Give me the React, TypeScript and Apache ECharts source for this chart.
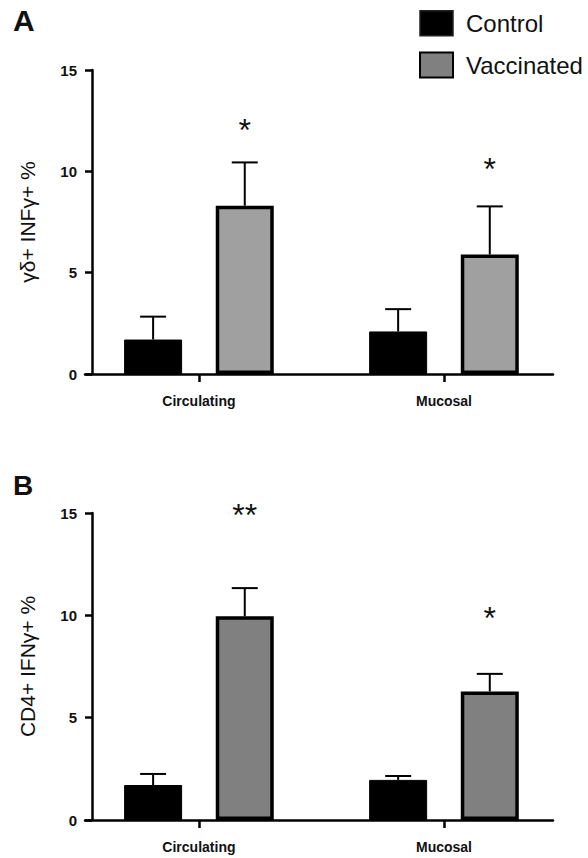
import React, { useEffect, useRef } from 'react';
import * as echarts from 'echarts';

const categories = ['Circulating', 'Mucosal'];
const groupNames = ['Control', 'Vaccinated'];

// Panel A: γδ+ INFγ+ %
const aControlMean = [1.7, 2.1];
const aControlErr = [1.13, 1.1];
const aVaccMean = [8.3, 5.9];
const aVaccErr = [2.14, 2.37];
const aSigText = ['*', '*'];
const aSigY = [12.4, 10.48];

// Panel B: CD4+ IFNγ+ %
const bControlMean = [1.71, 1.96];
const bControlErr = [0.54, 0.19];
const bVaccMean = [9.95, 6.28];
const bVaccErr = [1.38, 0.86];
const bSigText = ['**', '*'];
const bSigY = [15.26, 10.19];

const FONT = 'Liberation Sans, Arial, sans-serif';
const BAR_W = 58;
const BAR_GAP = 0.58;
const OFFSET = (BAR_W * (1 + BAR_GAP)) / 2;

function errSeries(name: string, gridIdx: number, means: number[], errs: number[], dx: number) {
  return {
    type: 'custom',
    name,
    xAxisIndex: gridIdx,
    yAxisIndex: gridIdx,
    z: 1,
    silent: true,
    data: means.map((m, i) => [i, m, errs[i]]),
    renderItem: (params: any, api: any) => {
      const x = api.value(0);
      const m = api.value(1);
      const e = api.value(2);
      const p0 = api.coord([x, m]);
      const p1 = api.coord([x, m + e]);
      const cx = p0[0] + dx;
      return {
        type: 'group',
        children: [
          { type: 'line', shape: { x1: cx, y1: p0[1], x2: cx, y2: p1[1] }, style: { stroke: '#000', lineWidth: 2 } },
          { type: 'line', shape: { x1: cx - 13, y1: p1[1], x2: cx + 13, y2: p1[1] }, style: { stroke: '#000', lineWidth: 2 } },
        ],
      };
    },
  };
}

function sigSeries(gridIdx: number, ys: number[], texts: string[], dx: number) {
  return {
    type: 'custom',
    name: 'sig' + gridIdx,
    xAxisIndex: gridIdx,
    yAxisIndex: gridIdx,
    silent: true,
    data: ys.map((y, i) => [i, y]),
    renderItem: (params: any, api: any) => {
      const p = api.coord([api.value(0), api.value(1)]);
      return {
        type: 'text',
        x: p[0] + dx,
        y: p[1] + 7,
        style: {
          text: texts[params.dataIndex],
          fontSize: 32,
          fontFamily: FONT,
          fill: '#111',
          align: 'center',
          verticalAlign: 'middle',
        },
      };
    },
  };
}

function barSeries(name: string, gridIdx: number, vals: number[], color: string, border: number) {
  return {
    type: 'bar',
    name,
    xAxisIndex: gridIdx,
    yAxisIndex: gridIdx,
    barWidth: BAR_W,
    barGap: BAR_GAP * 100 + '%',
    z: 2,
    data: vals.map((v, i) => [i, v]),
    itemStyle: { color, borderColor: '#000', borderWidth: border },
  };
}

function xAxisCfg(gridIdx: number) {
  return {
    type: 'value',
    gridIndex: gridIdx,
    min: -0.465,
    max: 1.445,
    splitLine: { show: false },
    axisLine: { show: true, onZero: false, lineStyle: { color: '#000', width: 2.5 } },
    axisTick: { show: true, customValues: [0, 1], length: 8, lineStyle: { color: '#000', width: 2.5 } },
    axisLabel: {
      customValues: [0, 1],
      formatter: (v: number) => categories[Math.round(v)] ?? '',
      fontSize: 14,
      fontWeight: 'bold',
      fontFamily: FONT,
      color: '#111',
      margin: 20,
    },
  };
}

function yAxisCfg(gridIdx: number, name: string) {
  return {
    type: 'value',
    gridIndex: gridIdx,
    min: 0,
    max: 15,
    interval: 5,
    offset: -7,
    name,
    nameLocation: 'middle',
    nameGap: 54,
    nameTextStyle: { fontSize: 21, fontFamily: FONT, color: '#111' },
    splitLine: { show: false },
    axisLine: { show: true, onZero: false, lineStyle: { color: '#000', width: 2.5 } },
    axisTick: { show: true, length: 7, lineStyle: { color: '#000', width: 2.5 } },
    axisLabel: { fontSize: 15, fontWeight: 'bold', fontFamily: FONT, color: '#111', margin: 15 },
  };
}

export default function App() {
  const ref = useRef<HTMLDivElement>(null);
  useEffect(() => {
    if (!ref.current) return;
    const chart = echarts.init(ref.current, undefined, { renderer: 'svg' });
    chart.setOption({
      animation: false,
      backgroundColor: '#fff',
      title: [
        { text: 'A', left: 13, top: 5, padding: 0, textStyle: { fontSize: 30, fontWeight: 'bold', fontFamily: FONT, color: '#111' } },
        { text: 'B', left: 13, top: 471, padding: 0, textStyle: { fontSize: 28, fontWeight: 'bold', fontFamily: FONT, color: '#111' } },
      ],
      legend: {
        orient: 'vertical',
        left: 419,
        top: 10,
        padding: 0,
        itemWidth: 33,
        itemHeight: 25,
        itemGap: 15,
        icon: 'rect',
        selectedMode: false,
        textStyle: { fontSize: 24, fontFamily: FONT, color: '#111', padding: [0, 0, 0, 8] },
        data: [
          { name: groupNames[0], itemStyle: { color: '#000', borderColor: '#222', borderWidth: 1.5 } },
          { name: groupNames[1], itemStyle: { color: '#808080', borderColor: '#000', borderWidth: 2 } },
        ],
      },
      grid: [
        { left: 85, top: 70, width: 468, height: 304, containLabel: false, outerBoundsMode: 'none' },
        { left: 85, top: 513, width: 468, height: 307, containLabel: false, outerBoundsMode: 'none' },
      ],
      xAxis: [xAxisCfg(0), xAxisCfg(1)],
      yAxis: [yAxisCfg(0, 'γδ+ INFγ+ %'), yAxisCfg(1, 'CD4+ IFNγ+ %')],
      series: [
        barSeries(groupNames[0], 0, aControlMean, '#000', 1),
        barSeries(groupNames[1], 0, aVaccMean, '#a0a0a0', 3.5),
        barSeries(groupNames[0], 1, bControlMean, '#000', 1),
        barSeries(groupNames[1], 1, bVaccMean, '#808080', 3.5),
        errSeries('errA0', 0, aControlMean, aControlErr, -OFFSET),
        errSeries('errA1', 0, aVaccMean, aVaccErr, OFFSET),
        errSeries('errB0', 1, bControlMean, bControlErr, -OFFSET),
        errSeries('errB1', 1, bVaccMean, bVaccErr, OFFSET),
        sigSeries(0, aSigY, aSigText, OFFSET),
        sigSeries(1, bSigY, bSigText, OFFSET),
      ],
    });
    return () => chart.dispose();
  }, []);
  return <div ref={ref} style={{ position: 'absolute', left: 0, top: 0, width: 588, height: 858 }} />;
}
